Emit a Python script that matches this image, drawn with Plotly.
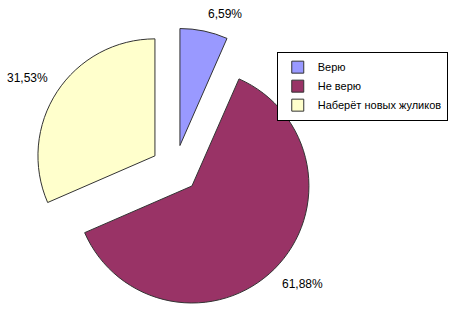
import math
import plotly.graph_objects as go

labels = ["Верю", "Не верю", "Наберёт новых жуликов"]
values = [6.59, 61.88, 31.53]
colors = ["#9999FF", "#993366", "#FFFFCC"]
pulls = [0.205, 0.205, 0.205]

W, H = 450, 313
dom_x = [0.0756, 0.7022]
dom_y = [0.0096, 0.9105]
FONT = "Arial, Liberation Sans, sans-serif"

fig = go.Figure(go.Pie(
    labels=labels,
    values=values,
    sort=False,
    direction="clockwise",
    rotation=0,
    pull=pulls,
    marker=dict(colors=colors, line=dict(color="#333333", width=1)),
    textinfo="none",
    domain=dict(x=dom_x, y=dom_y),
    hovertemplate="%{label}: %{percent:.2%}<extra></extra>",
))

# outside percentage labels, placed from the pie's own geometry
cx = (dom_x[0] + dom_x[1]) / 2 * W
cy = (dom_y[0] + dom_y[1]) / 2 * H
r = min((dom_x[1] - dom_x[0]) * W, (dom_y[1] - dom_y[0]) * H) / 2 / (1 + max(pulls))
total = sum(values)
cum = 0.0
gap = 8
for v, p in zip(values, pulls):
    theta = (cum + v / 2) / total * 2 * math.pi
    cum += v
    ux, uy = math.sin(theta), math.cos(theta)
    ax_, ay_ = cx + p * r * ux, cy + p * r * uy
    d = r + gap
    px, py = ax_ + d * ux, ay_ + d * uy
    fig.add_annotation(
        x=px / W, y=py / H, xref="paper", yref="paper",
        xanchor="left" if ux > 0 else "right",
        yanchor="bottom" if uy > 0 else "top",
        text=f"{v / total * 100:.2f}".replace(".", ",") + "%",
        showarrow=False,
        font=dict(family=FONT, size=12, color="black"),
    )

fig.update_layout(
    width=W, height=H,
    margin=dict(l=0, r=0, t=0, b=0),
    paper_bgcolor="white",
    separators=", ",
    font=dict(family=FONT, size=11, color="black"),
    legend=dict(
        x=0.995, y=0.835, xanchor="right", yanchor="top",
        bordercolor="black", borderwidth=1, bgcolor="white",
        font=dict(family=FONT, size=11, color="black"),
    ),
)

fig.write_html("out.html")
